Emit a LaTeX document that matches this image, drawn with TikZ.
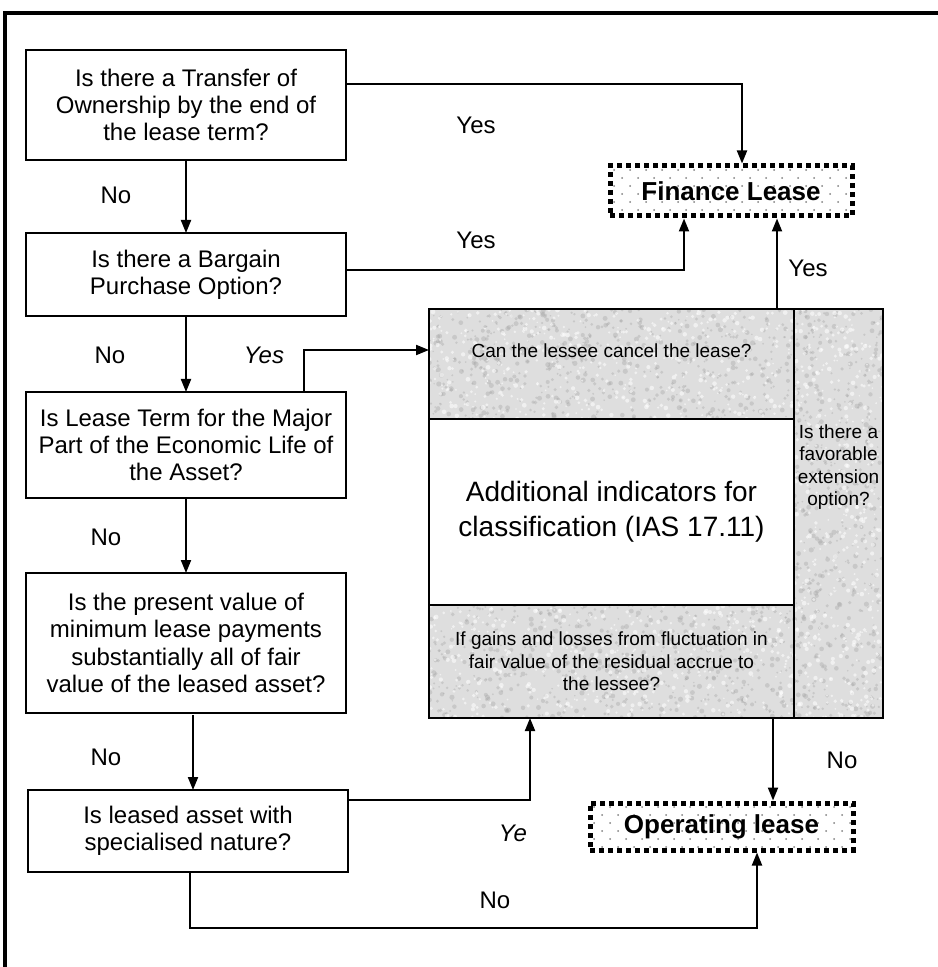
\documentclass[tikz,border=0pt]{standalone}
\usepackage{fontspec}
\setmainfont{Liberation Sans}
\usetikzlibrary{arrows.meta,calc}

\definecolor{granite}{RGB}{222,222,222}
\definecolor{speckdark}{RGB}{160,160,160}

\begin{document}
\begin{tikzpicture}[x=0.5pt,y=-0.5pt,
  every node/.style={inner sep=0pt,outer sep=0pt},
  question/.style={draw,line width=1.1pt,minimum width=160pt,align=center,
    font=\fontsize{12}{13.6}\selectfont},
  part/.style={draw,line width=1.1pt},
  small/.style={align=center,font=\fontsize{9.5}{11.2}\selectfont},
  big/.style={align=center,font=\fontsize{14}{17.5}\selectfont},
  outcome/.style={draw,line width=2.5pt,dash pattern=on 2.5pt off 2pt,
    outer sep=1.25pt,font=\fontsize{13}{15}\selectfont\bfseries},
  lab/.style={font=\fontsize{12}{14}\selectfont},
  arr/.style={line width=1pt,-{Triangle[length=6.5pt,width=5pt]}},
]
\useasboundingbox (0,0) rectangle (937,967);

% outer frame
\draw[line width=2pt] (5,975) -- (5,13) -- (945,13);

% questions on the left
\node[question,minimum height=55pt] (q1) at (186,105)
  {Is there a Transfer of\\Ownership by the end of\\the lease term?};
\node[question,minimum height=41.5pt] (q2) at (186,274.5)
  {Is there a Bargain\\Purchase Option?};
\node[question,minimum height=53pt] (q3) at (186,445)
  {Is Lease Term for the Major\\Part of the Economic Life of\\the Asset?};
\node[question,minimum height=70pt] (q4) at (186,643)
  {Is the present value of\\minimum lease payments\\substantially all of fair\\value of the leased asset?};
\node[question,minimum height=41pt] (q5) at (188,831)
  {Is leased asset with\\specialised nature?};

% granite-textured block of additional indicators
\fill[granite] (429,309) rectangle (883,718);
\begin{scope}
  \clip (429,309) rectangle (883,718);
  \pgfmathsetseed{2718}
  \foreach \i in {1,...,2600}{
    \pgfmathsetmacro\rr{0.4+0.9*rnd}
    \fill[speckdark,opacity=0.35] ({429+454*rnd},{309+409*rnd}) circle[radius=\rr pt];
  }
  \foreach \i in {1,...,2000}{
    \pgfmathsetmacro\rr{0.4+0.8*rnd}
    \fill[white,opacity=0.55] ({429+454*rnd},{309+409*rnd}) circle[radius=\rr pt];
  }
\end{scope}

\node[part,minimum width=182.5pt,minimum height=55pt] (cancel) at (611.5,364) {};
\node[small] (canceltxt) at (611.5,351) {Can the lessee cancel the lease?};
\node[part,fill=white,minimum width=182.5pt,minimum height=93pt,big] (addl) at (611.5,512)
  {Additional indicators for\\classification (IAS 17.11)};
\node[part,minimum width=182.5pt,minimum height=56.5pt,small] (gains) at (611.5,661.5)
  {If gains and losses from fluctuation in\\fair value of the residual accrue to\\the lessee?};
\node[part,minimum width=44.5pt,minimum height=204.5pt] (ext) at (838.5,513.5) {};
\node[small] (exttxt) at (838.5,467) {Is there a\\favorable\\extension\\option?};

% dotted fill of the two outcome boxes
\begin{scope}
  \clip (610,166) rectangle (852,216);
  \foreach \r in {0,...,6}{
    \foreach \c in {0,...,16}{
      \fill[gray] ({614+16*\c+8*mod(\r,2)},{170+8*\r}) circle[radius=0.5pt];
    }
  }
\end{scope}
\begin{scope}
  \clip (590,803) rectangle (853,850);
  \foreach \r in {0,...,6}{
    \foreach \c in {0,...,17}{
      \fill[gray] ({594+16*\c+8*mod(\r,2)},{807+8*\r}) circle[radius=0.5pt];
    }
  }
\end{scope}
\node[outcome,minimum width=121pt,minimum height=25pt] (fin) at (731,191) {Finance Lease};
\node[outcome,minimum width=131.5pt,minimum height=23.5pt] (op) at (721.5,826.5) {Operating lease};

% connectors
\draw[arr] (q1.south) -- (q2.north);
\draw[arr] (q2.south) -- (q3.north);
\draw[arr] (q3.south) -- (q4.north);
\draw[arr] ($(q4.south)+(7,2)$) -- ($(q5.north)+(5,0)$);

\draw[arr] ($(q1.east)+(0,-21)$) -| ($(fin.north)+(11,0)$);
\draw[arr] ($(q2.east)+(0,-4.5)$) -| ($(fin.south)+(-47,0)$);
\draw[arr] ($(cancel.north)+(165.5,0)$) -- ($(fin.south)+(46,0)$);
\draw[arr] ($(q3.north)+(118,0)$) |- ($(cancel.west)+(0,-14)$);
\draw[arr] ($(q5.east)+(0,-31)$) -| ($(gains.south)+(-81.5,0)$);
\draw[arr] ($(gains.south)+(161.5,0)$) -- ($(op.north)+(51.5,0)$);
\draw[arr] ($(q5.south)+(2,0)$) -- ++(0,56) -| ($(op.south)+(35.5,0)$);

% branch labels
\node[lab] (l1) at (476,125) {Yes};
\node[lab] (l2) at (116,195) {No};
\node[lab] (l3) at (476,240) {Yes};
\node[lab] (l4) at (110,355) {No};
\node[lab,font=\fontsize{12}{14}\selectfont\itshape] (l5) at (264,355) {Yes};
\node[lab] (l6) at (106,537) {No};
\node[lab] (l7) at (106,757) {No};
\node[lab] (l8) at (808,268) {Yes};
\node[lab] (l9) at (842,760) {No};
\node[lab,font=\fontsize{12}{14}\selectfont\itshape] (l10) at (513,833) {Ye};
\node[lab] (l11) at (495,900) {No};
\end{tikzpicture}
\end{document}
